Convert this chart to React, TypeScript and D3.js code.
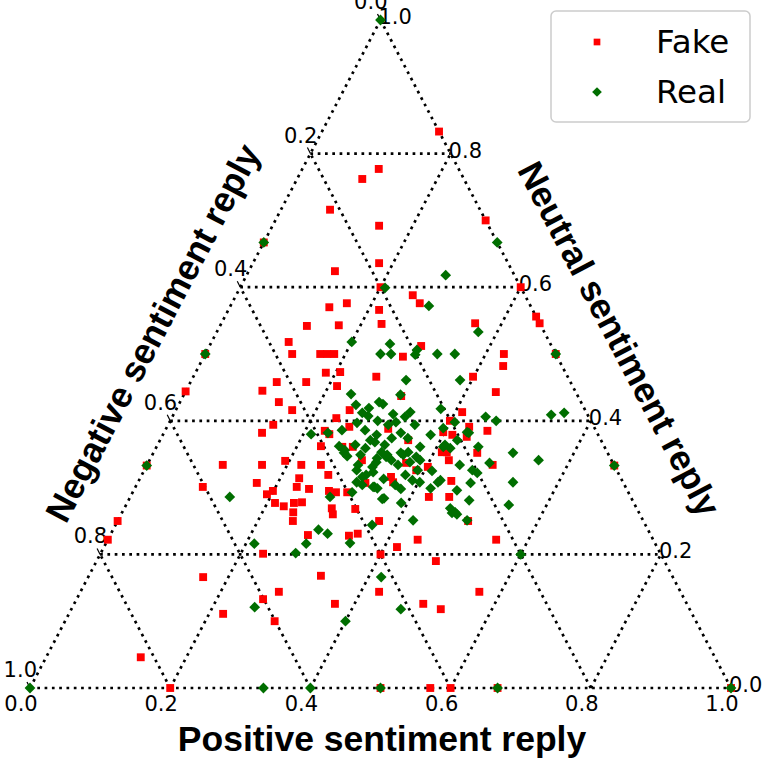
// App.tsx - ternary scatter of reply sentiment (fake vs real news)
import React from 'react';
import * as d3 from 'd3';

// each point: [positive, neutral]; negative = 1 - positive - neutral
const fakeReplies: [number, number][] = [
  [0.167, 0.833], [0.109, 0.777], [0.093, 0.762], [0.070, 0.716], [0.152, 0.692], [0.300, 0.700], [0, 0.667],
  [0.180, 0.636], [0.123, 0.624], [0.200, 0.600], [0.400, 0.600], [0.252, 0.588], [0.268, 0.576], [0.164, 0.576],
  [0.215, 0.566], [0.142, 0.570], [0.444, 0.556], [0.454, 0.546], [0.362, 0.546], [0.124, 0.542], [0.169, 0.543],
  [0.229, 0.545], [0.110, 0.518], [0.302, 0.512], [0.124, 0.500], [0.164, 0.500], [0.174, 0.500], [0.184, 0.500],
  [0.284, 0.496], [0.426, 0.500], [0.500, 0.500], [0, 0.500], [0.434, 0.482], [0.186, 0.472], [0.206, 0.473],
  [0.261, 0.466], [0.399, 0.466], [0.123, 0.458], [0.165, 0.458], [0.212, 0.452], [0.109, 0.445], [0, 0.444],
  [0.443, 0.443], [0.311, 0.437], [0.141, 0.428], [0.166, 0.416], [0.248, 0.416], [0.410, 0.413], [0.235, 0.404],
  [0.399, 0.400], [0.150, 0.394], [0.260, 0.391], [0.317, 0.388], [0.431, 0.391], [0.460, 0.385], [0.140, 0.382],
  [0.228, 0.385], [0.237, 0.380], [0.413, 0.379], [0.435, 0.376], [0.354, 0.371], [0.234, 0.362], [0.265, 0.361],
  [0.280, 0.361], [0.398, 0.383], [0.411, 0.353], [0.418, 0.353], [0.462, 0.352], [0.427, 0.341], [0.303, 0.341],
  [0, 0.333], [0.108, 0.334], [0.164, 0.334], [0.194, 0.340], [0.220, 0.334], [0.248, 0.334], [0.493, 0.334],
  [0.402, 0.331], [0.388, 0.326], [0.368, 0.337], [0.227, 0.314], [0.266, 0.319], [0.357, 0.316], [0.446, 0.310],
  [0.364, 0.308], [0.325, 0.307], [0.170, 0.307], [0.096, 0.301], [0.193, 0.290], [0.199, 0.295], [0.230, 0.301],
  [0.249, 0.298], [0.279, 0.295], [0.290, 0.293], [0.306, 0.293], [0.426, 0.286], [0.455, 0.286], [0.211, 0.277],
  [0.226, 0.272], [0.238, 0.277], [0.249, 0.278], [0.244, 0.263], [0.296, 0.269], [0.302, 0.260], [0.330, 0.268],
  [0, 0.250], [0, 0.222], [0.250, 0.250], [0.373, 0.250], [0.500, 0.250], [0.282, 0.229], [0.341, 0.228],
  [0.352, 0.231], [0.418, 0.211], [0.442, 0.222], [0.554, 0.222], [0.232, 0.201], [0.400, 0.200], [0.484, 0.190],
  [0.164, 0.166], [0.331, 0.168], [0.283, 0.144], [0.426, 0.144], [0.569, 0.144], [0.266, 0.133], [0.372, 0.126],
  [0.498, 0.126], [0.527, 0.118], [0.220, 0.111], [0.299, 0.100], [0.135, 0.046], [0.200, 0], [0.571, 0],
  [0.600, 0], [0.667, 0], [0.500, 0], [1, 0], [0.667, 0.333],
];

const realReplies: [number, number][] = [
  [0, 1], [0, 0.667], [0.333, 0.667], [0.284, 0.618], [0.207, 0.599], [0.283, 0.572], [0.373, 0.533],
  [0.200, 0.518], [0.256, 0.515], [0, 0.500], [0.250, 0.500], [0.265, 0.500], [0.299, 0.506], [0.300, 0.499],
  [0.331, 0.500], [0.356, 0.500], [0.500, 0.500], [0.306, 0.461], [0.383, 0.461], [0.238, 0.440], [0.253, 0.424],
  [0.284, 0.428], [0.291, 0.425], [0.274, 0.419], [0.279, 0.407], [0.313, 0.410], [0.268, 0.397], [0.296, 0.400],
  [0.211, 0.380], [0.305, 0.379], [0.260, 0.362], [0.377, 0.418], [0.447, 0.406], [0.465, 0.400], [0.539, 0.409],
  [0.556, 0.412], [0.336, 0.413], [0.332, 0.406], [0.352, 0.394], [0.432, 0.383], [0.395, 0.389], [0.459, 0.361],
  [0.424, 0.371], [0.410, 0.364], [0.268, 0.412], [0.323, 0.398], [0.338, 0.382], [0.352, 0.374], [0.252, 0.386],
  [0.234, 0.382], [0.271, 0.356], [0.282, 0.364], [0.325, 0.353], [0.335, 0.346], [0.325, 0.338], [0.323, 0.331],
  [0.345, 0.341], [0.353, 0.352], [0.363, 0.353], [0.378, 0.346], [0.376, 0.361], [0.382, 0.379], [0.407, 0.398],
  [0.435, 0.382], [0.513, 0.352], [0.555, 0.341], [0.446, 0.334], [0.468, 0.326], [0.487, 0.337], [0.535, 0.308],
  [0.546, 0.274], [0.486, 0.281], [0.475, 0.263], [0.465, 0.269], [0.498, 0.251], [0.461, 0.296], [0.430, 0.311],
  [0.422, 0.299], [0.402, 0.308], [0.421, 0.251], [0.391, 0.277], [0.363, 0.284], [0.341, 0.301], [0.316, 0.316],
  [0.322, 0.304], [0.303, 0.326], [0.285, 0.286], [0.142, 0.286], [0.293, 0.237], [0.309, 0.231], [0.286, 0.216],
  [0.348, 0.217], [0.366, 0.244], [0.278, 0.202], [0.212, 0.216], [0.418, 0.166], [0.470, 0.118], [0.400, 0.100],
  [0.260, 0.121], [0.600, 0.200], [0.667, 0.333], [1, 0], [0.333, 0], [0.400, 0], [0.500, 0], [0.667, 0], [0, 0],
  [0, 0.333], [0.272, 0.352], [0.279, 0.347], [0.301, 0.334], [0.320, 0.319], [0.312, 0.308], [0.328, 0.323],
  [0.323, 0.344], [0.335, 0.349], [0.339, 0.301], [0.346, 0.299], [0.348, 0.313], [0.313, 0.293], [0.361, 0.283],
  [0.380, 0.298], [0.308, 0.368], [0.409, 0.361], [0.420, 0.359], [0.411, 0.325], [0.477, 0.322], [0.428, 0.308],
  [0.475, 0.307], [0.471, 0.262], [0.479, 0.260], [0.300, 0.371], [0.324, 0.364], [0.329, 0.374], [0.299, 0.359],
  [0.358, 0.334], [0.314, 0.394], [0.285, 0.386], [0.309, 0.439], [0.358, 0.349], [0.373, 0.338], [0.390, 0.326],
  [0.376, 0.319], [0.390, 0.311], [0.386, 0.341], [0.297, 0.349], [0.369, 0.304],
];

const ticks = [0, 0.2, 0.4, 0.6, 0.8, 1.0];
const tickLabels = ['0.0', '0.2', '0.4', '0.6', '0.8', '1.0'];
const seriesNames = ['Fake', 'Real'];
const axisTitles = ['Positive sentiment reply', 'Negative sentiment reply', 'Neutral sentiment reply'];

const W = 764;
const H = 760;
const RED = '#ff0000';
const GREEN = '#006e00';
const TICK_FONT = '"DejaVu Sans", sans-serif';
const TITLE_FONT = '"Liberation Sans", Arial, sans-serif';

// simplex -> screen
const x = d3.scaleLinear().domain([0, 1]).range([30, 731]);
const y = d3.scaleLinear().domain([0, 1]).range([688, 20]);
const project = (p: number, q: number): [number, number] => [x(p + q / 2), y(q)];

const line = d3.line<[number, number]>();
const square = d3.symbol().type(d3.symbolSquare).size(62)()!;
const diamond = d3.symbol().type(d3.symbolSquare).size(58)()!;

// dotted grid, edges included (t = 0)
const gridLines: [number, number][][] = ticks.slice(0, -1).flatMap((t) => [
  [[0, t], [1 - t, t]],
  [[t, 0], [t, 1 - t]],
  [[1 - t, 0], [0, 1 - t]],
] as [number, number][][]);

const EDGE_ANGLE = (Math.atan2(y(0) - y(1), x(0.5) - x(0)) * 180) / Math.PI;

export default function App() {
  return (
    <div>
      <style>{'body{margin:0}'}</style>
      <svg width={W} height={H} style={{ display: 'block', background: '#fff' }}>
        <g fill="none" stroke="#000" strokeWidth={2.7} strokeDasharray="2.7 4.6">
          {gridLines.map((seg, i) => (
            <path key={i} d={line(seg.map(([p, q]) => project(p, q)))!} />
          ))}
        </g>

        {/* small ticks on the left side */}
        <g stroke="#000" strokeWidth={1.2}>
          {ticks.map((t, i) => {
            const [px, py] = project(0, 1 - t);
            return <line key={i} x1={px} y1={py} x2={px - 3} y2={py - 6} />;
          })}
        </g>

        <g fontFamily={TICK_FONT} fontSize={21} fill="#000">
          {ticks.map((t, i) => {
            const [px, py] = project(t, 0);
            return (
              <text key={'b' + i} x={px - 9} y={py + 23} textAnchor="middle">
                {tickLabels[i]}
              </text>
            );
          })}
          {ticks.map((t, i) => {
            const [px, py] = project(0, 1 - t);
            return (
              <text key={'l' + i} x={px + 7} y={py - 11} textAnchor="end">
                {tickLabels[i]}
              </text>
            );
          })}
          {ticks.map((t, i) => {
            const [px, py] = project(1 - t, t);
            return (
              <text key={'r' + i} x={px - 2} y={py + 4}>
                {tickLabels[i]}
              </text>
            );
          })}
        </g>

        <g fill={RED}>
          {fakeReplies.map(([p, q], i) => {
            const [px, py] = project(p, q);
            return <path key={i} d={square} transform={`translate(${px},${py})`} />;
          })}
        </g>
        <g fill={GREEN}>
          {realReplies.map(([p, q], i) => {
            const [px, py] = project(p, q);
            return <path key={i} d={diamond} transform={`translate(${px},${py}) rotate(45)`} />;
          })}
        </g>

        <g fontFamily={TITLE_FONT} fontWeight="bold" fontSize={35.5} fill="#000" textAnchor="middle">
          <text x={382} y={751}>{axisTitles[0]}</text>
          <text transform={`translate(153,333) rotate(${-EDGE_ANGLE})`} dominantBaseline="central">
            {axisTitles[1]}
          </text>
          <text transform={`translate(619,339) rotate(${EDGE_ANGLE})`} dominantBaseline="central">
            {axisTitles[2]}
          </text>
        </g>

        <g>
          <rect x={551} y={11} width={199} height={111} rx={5} fill="#fff" fillOpacity={0.9} stroke="#cccccc" strokeWidth={1.5} />
          <path d={square} fill={RED} transform="translate(597,42) scale(0.85)" />
          <path d={diamond} fill={GREEN} transform="translate(597,92) rotate(45) scale(0.9)" />
          <g fontFamily={TICK_FONT} fontSize={32.5} fill="#000">
            <text x={656} y={53}>{seriesNames[0]}</text>
            <text x={656} y={103}>{seriesNames[1]}</text>
          </g>
        </g>
      </svg>
    </div>
  );
}
